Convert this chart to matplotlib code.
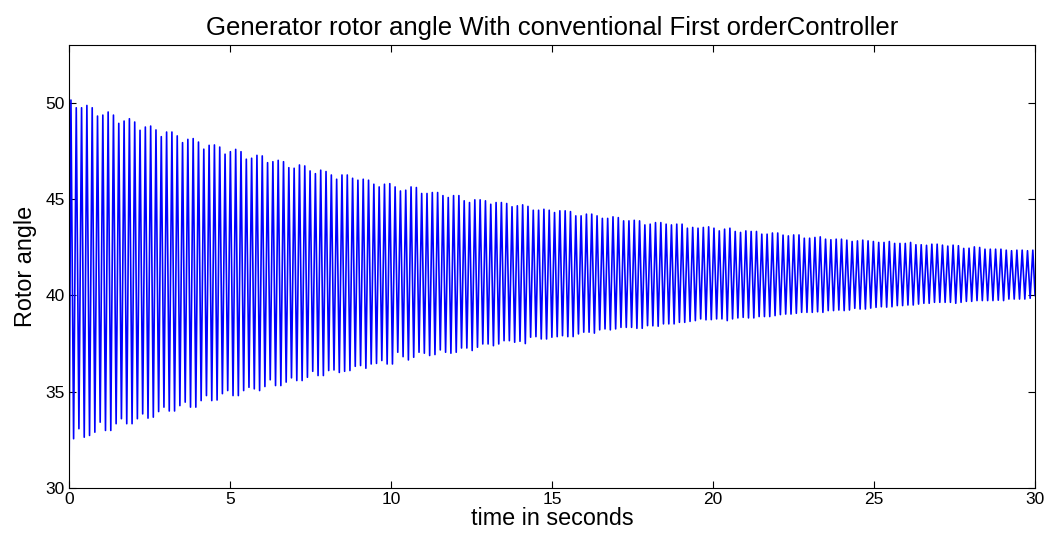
import numpy as np
import matplotlib
matplotlib.use("Agg")
import matplotlib.pyplot as plt

plt.rcParams['font.family'] = ['Liberation Sans', 'DejaVu Sans']

# swing starts at 30 deg and ends near 40 deg
t_start, angle_start = 0.0, 30.0
t_end, angle_end = 30.0, 40.0
t_first_peak, t_last_peak = 0.06, 29.93

# upper peaks of each swing (about 6 Hz)
peaks = [
    50.14, 49.74, 49.74, 49.86, 49.74, 49.31, 49.36, 49.52, 49.36, 48.93,
    49.05, 49.17, 49.00, 48.57, 48.74, 48.79, 48.59, 48.24, 48.48, 48.48,
    48.28, 47.93, 48.10, 48.14, 47.96, 47.59, 47.79, 47.81, 47.70, 47.33,
    47.46, 47.58, 47.46, 47.07, 47.12, 47.27, 47.24, 46.89, 46.94, 47.01,
    46.94, 46.63, 46.60, 46.77, 46.72, 46.46, 46.32, 46.50, 46.43, 46.25,
    46.03, 46.25, 46.25, 46.08, 45.98, 46.03, 45.98, 45.77, 45.63, 45.77,
    45.80,
    45.63, 45.42, 45.46, 45.63, 45.60, 45.29, 45.29, 45.34, 45.34, 45.18,
    45.08, 45.18, 45.18, 44.91, 44.82, 44.96, 44.96, 44.91, 44.73, 44.82,
    44.82, 44.77, 44.60, 44.65, 44.70, 44.62, 44.42, 44.42, 44.47, 44.42,
    44.30,
    44.39, 44.39, 44.35, 44.13, 44.13, 44.22, 44.22, 44.13, 44.00, 44.00,
    44.08, 44.04, 43.87, 43.87, 43.90, 43.87, 43.66, 43.70, 43.78, 43.78,
    43.70, 43.66, 43.70, 43.70, 43.49, 43.53, 43.49, 43.53, 43.56, 43.49,
    43.35, 43.44, 43.49, 43.32, 43.27, 43.35, 43.32, 43.32, 43.18, 43.18,
    43.24, 43.24, 43.13, 43.09, 43.14, 43.14, 42.97, 42.97, 43.01, 43.04,
    42.92, 42.89, 42.92, 42.92, 42.87, 42.80, 42.83, 42.87, 42.83, 42.80,
    42.75,
    42.75, 42.80, 42.70, 42.70, 42.70, 42.75, 42.63, 42.63, 42.60, 42.66,
    42.66, 42.61, 42.56, 42.61, 42.58, 42.44, 42.45, 42.52, 42.49, 42.40,
    42.40, 42.40, 42.40, 42.35, 42.32, 42.35, 42.35, 42.32, 42.35,
]

# lower troughs between the peaks
troughs = [
    32.56, 33.08, 32.64, 32.73, 32.90, 33.42, 32.99, 32.99, 33.34, 33.60,
    33.34, 33.34, 33.60, 33.85, 33.63, 33.68, 33.97, 34.20, 34.00, 34.00,
    34.28, 34.46, 34.20, 34.20, 34.54, 34.80, 34.54, 34.57, 34.90, 35.06,
    34.80, 34.80, 35.06, 35.23, 35.15, 35.06, 35.27, 35.62, 35.32, 35.32,
    35.50, 35.72, 35.58, 35.58, 35.75, 36.06, 35.84, 35.84, 36.10, 36.13,
    36.00, 36.06, 36.10, 36.32, 36.36, 36.22, 36.44, 36.47, 36.62, 36.44,
    36.44,
    37.05, 36.82, 36.65, 36.79, 37.05, 37.00, 36.88, 36.93, 37.17, 37.05,
    37.00, 37.05, 37.27, 37.27, 37.14, 37.31, 37.48, 37.48, 37.39, 37.48,
    37.65, 37.65, 37.57, 37.62, 37.50, 37.83, 37.86, 37.74, 37.74, 37.83,
    37.86, 37.91, 37.86, 37.86, 38.00, 38.09, 38.09, 38.04, 38.21, 38.26,
    38.21, 38.26, 38.34, 38.34, 38.34, 38.29, 38.29, 38.43, 38.42, 38.40,
    38.52, 38.52, 38.52, 38.60, 38.60, 38.65, 38.69, 38.78, 38.73, 38.74,
    38.78,
    38.78, 38.69, 38.78, 38.83, 38.86, 38.83, 38.83, 38.90, 38.90, 38.90,
    38.95, 39.00, 39.03, 39.03, 39.07, 39.12, 39.12, 39.12, 39.15, 39.12,
    39.21, 39.21, 39.24, 39.21, 39.24, 39.33, 39.29, 39.29, 39.34, 39.38,
    39.41, 39.39, 39.41, 39.47, 39.47, 39.50, 39.50, 39.55, 39.59, 39.59,
    39.64, 39.64, 39.64, 39.64, 39.59, 39.64, 39.69, 39.69, 39.73, 39.73,
    39.73, 39.73, 39.75, 39.73, 39.81, 39.81, 39.81, 39.81, 39.85,
]

# interleave peak / trough
n = min(len(peaks), len(troughs) + 1)
extrema = []
for i in range(n):
    extrema.append(peaks[i])
    if i < len(troughs) and i < n - 1:
        extrema.append(troughs[i])
t_ext = np.linspace(t_first_peak, t_last_peak, len(extrema))

t = np.concatenate([[t_start], t_ext, [t_end]])
angle = np.concatenate([[angle_start], extrema, [angle_end]])

fig = plt.figure(figsize=(10.52, 5.44), dpi=100)
ax = fig.add_axes([0.0656, 0.1029, 0.9183, 0.8144])
ax.plot(t, angle, color='blue', linewidth=1.2)

ax.set_xlim(0, 30)
ax.set_ylim(30, 53)
ax.set_xticks([0, 5, 10, 15, 20, 25, 30])
ax.set_yticks([30, 35, 40, 45, 50])
ax.tick_params(direction='in', top=True, right=True, labelsize=12.5, length=5, pad=3)
ax.set_title("Generator rotor angle With conventional First orderController", fontsize=18.5, pad=7)
ax.set_xlabel("time in seconds", fontsize=16.8, labelpad=0)
ax.set_ylabel("Rotor angle", fontsize=16.8, labelpad=6)

fig.savefig("out.png", dpi=100)
